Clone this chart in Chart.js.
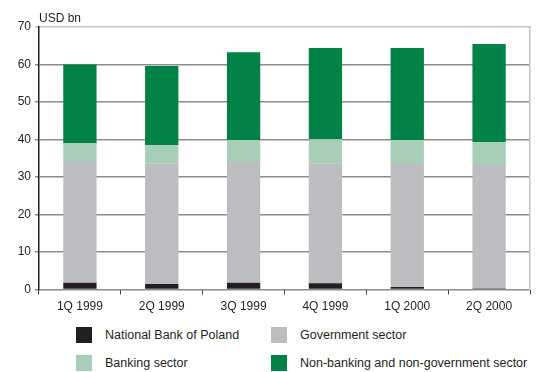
<!DOCTYPE html>
<html><head><meta charset="utf-8">
<script src="https://cdn.jsdelivr.net/npm/chart.js@4"></script>
<style>
html,body{margin:0;padding:0;background:#fff;}
body{width:539px;height:372px;position:relative;overflow:hidden;font-family:"Liberation Sans",Arial,sans-serif;color:#231f20;}
#wrap{position:absolute;left:0;top:0;width:539px;height:315px;}
#unit{position:absolute;left:39px;top:11px;font-size:12px;}
.lg{position:absolute;font-size:12.5px;line-height:16px;white-space:nowrap;}
.lg span{position:absolute;left:0;top:0;width:16px;height:16px;}
.lg b{font-weight:normal;position:absolute;left:29px;top:0;}
</style></head>
<body>
<div id="wrap"><canvas id="c"></canvas></div>
<div id="unit">USD bn</div>
<div id="legend"></div>
<script>
const categories = ["1Q 1999","2Q 1999","3Q 1999","4Q 1999","1Q 2000","2Q 2000"];
const nationalBank = [1.8, 1.5, 1.8, 1.7, 0.7, 0.1];
const government   = [32.5, 32.2, 32.2, 32.0, 32.8, 33.1];
const banking      = [4.8, 4.8, 5.9, 6.4, 6.4, 6.1];
const nonBanking   = [20.9, 21.1, 23.4, 24.3, 24.5, 26.2];
const yTicks = [0,10,20,30,40,50,60,70];

const series = [
  {label:"National Bank of Poland", data:nationalBank, color:"#231f20"},
  {label:"Government sector", data:government, color:"#bcbdc0"},
  {label:"Banking sector", data:banking, color:"#a7cfb8"},
  {label:"Non-banking and non-government sector", data:nonBanking, color:"#008145"}
];

const font = {family:"Liberation Sans", size:12};
new Chart(document.getElementById('c'), {
  type:'bar',
  data:{labels:categories, datasets:series.map(s=>({label:s.label,data:s.data,backgroundColor:s.color,borderWidth:0,categoryPercentage:1,barPercentage:0.407}))},
  options:{
    responsive:true, maintainAspectRatio:false, animation:false,
    layout:{padding:{top:27,right:9,left:0,bottom:0}},
    plugins:{legend:{display:false},tooltip:{enabled:false}},
    scales:{
      x:{stacked:true, offset:true,
        grid:{display:true, drawOnChartArea:false, drawTicks:true, tickLength:5, color:'#444', lineWidth:1, offset:true},
        border:{display:false},
        ticks:{color:'#231f20', font:font, padding:5, maxRotation:0},
        afterFit(s){s.height=25.5;}
      },
      y:{stacked:true, min:0, max:70,
        afterBuildTicks(s){s.ticks=yTicks.map(v=>({value:v}));},
        grid:{color:(ctx)=> ctx.tick && ctx.tick.value===70 ? '#c4c4c4' : '#8c8c8c', lineWidth:1.5, tickLength:4, drawTicks:true},
        border:{display:true, color:'#231f20', width:1.5},
        ticks:{color:'#231f20', font:font, padding:4},
        afterFit(s){s.width=39;}
      },
      y2:{position:'right', min:0, max:70, display:true,
        grid:{drawOnChartArea:false, drawTicks:false},
        border:{display:true, color:'#c4c4c4', width:1.5},
        ticks:{display:false},
        afterFit(s){s.width=0;}
      }
    }
  }
});

const lg = document.getElementById('legend');
const pos = [[76,327],[271,327],[76,355],[271,355]];
series.forEach((s,i)=>{
  const d=document.createElement('div'); d.className='lg';
  d.style.left=pos[i][0]+'px'; d.style.top=pos[i][1]+'px';
  d.innerHTML='<span style="background:'+s.color+'"></span><b>'+s.label+'</b>';
  lg.appendChild(d);
});
</script>
</body></html>
